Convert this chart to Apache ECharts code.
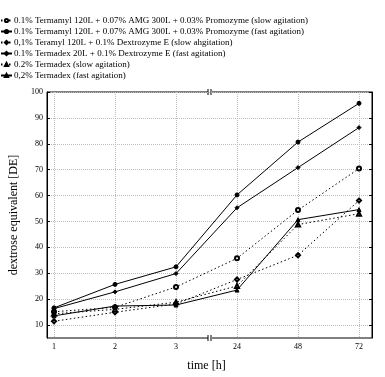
<!DOCTYPE html>
<html>
<head>
<meta charset="utf-8">
<script src="https://cdn.jsdelivr.net/npm/echarts@6/dist/echarts.min.js"></script>
<style>
  html, body { margin: 0; padding: 0; background: #fff; }
  #chart { width: 385px; height: 377px; }
</style>
</head>
<body>
<div id="chart"></div>
<script>
// ----- data -----
const timeLabels = ['1', '2', '3', '24', '48', '72'];
const seriesNames = [
    '0.1% Termamyl 120L + 0.07% AMG 300L + 0.03% Promozyme (slow agitation)',
    '0.1% Termamyl 120L + 0.07% AMG 300L + 0.03% Promozyme (fast agitation)',
    '0,1% Teramyl 120L + 0.1% Dextrozyme E (slow ahgitation)',
    '0.1% Termadex 20L + 0.1% Dextrozyme E (fast agitation)',
    '0.2% Termadex (slow agitation)',
    '0,2% Termadex (fast agitation)'
];
const promoSlow = [14.8, 16.5, 24.4, 35.5, 54.2, 70.3];
const promoFast = [16.3, 25.4, 32.2, 60.1, 80.6, 95.6];
const dextroSlow = [11.1, 14.6, 17.8, 27.3, 36.7, 57.9];
const dextroFast = [16.0, 22.5, 29.6, 55.1, 70.7, 86.2];
const termadexSlow = [14.0, 15.7, 18.5, 24.8, 48.6, 52.8];
const termadexFast = [13.2, 17.0, 17.4, 23.2, 50.5, 54.4];
const yTicks = [10, 20, 30, 40, 50, 60, 70, 80, 90, 100];

const seriesValues = [promoSlow, promoFast, dextroSlow, dextroFast, termadexSlow, termadexFast];
const symbols = ['emptyCircle', 'circle', 'emptyDiamond', 'diamond', 'emptyTriangle', 'triangle'];
const dashed = [true, false, true, false, true, false];

const serif = 'Liberation Serif';
const gridColor = '#bdbdbd';

// 两个 grid：0 画外框与 y 轴，1 放数据（类别轴两端留空）
const boxGrid = { left: 43, right: 13, top: 92, bottom: 39, show: true, borderColor: '#000', borderWidth: 1 };
const dataGrid = { left: 54, right: 26, top: 92, bottom: 39 };

const series = seriesNames.map((name, i) => ({
    name: name,
    type: 'line',
    xAxisIndex: 1,
    yAxisIndex: 2,
    data: seriesValues[i],
    symbol: symbols[i],
    symbolSize: 4,
    showAllSymbol: true,
    itemStyle: { color: '#000', borderColor: '#000', borderWidth: 1 },
    lineStyle: { color: '#000', width: 1, type: dashed[i] ? [1.5, 2.5] : 'solid' },
    emphasis: { disabled: true },
    z: 3
}));

// 断轴记号 "||"（3 与 24 之间）
const breakX = 209;
function breakMark(y) {
    return {
        type: 'group',
        children: [
            { type: 'rect', shape: { x: breakX - 1, y: y - 3, width: 4, height: 6 }, style: { fill: '#fff' } },
            { type: 'line', shape: { x1: breakX - 1, y1: y - 3, x2: breakX - 1, y2: y + 3 }, style: { stroke: '#000', lineWidth: 1 } },
            { type: 'line', shape: { x1: breakX + 2, y1: y - 3, x2: breakX + 2, y2: y + 3 }, style: { stroke: '#000', lineWidth: 1 } }
        ],
        z: 10
    };
}

const option = {
    animation: false,
    backgroundColor: '#fff',
    textStyle: { fontFamily: serif },
    legend: {
        orient: 'vertical',
        left: 0,
        top: 16,
        padding: 0,
        itemWidth: 11,
        itemHeight: 4,
        itemGap: 2,
        selectedMode: false,
        textStyle: { fontFamily: serif, fontSize: 9, lineHeight: 9, color: '#000', padding: [0, 0, 0, -3] },
        data: seriesNames
    },
    grid: [boxGrid, dataGrid],
    xAxis: [
        { type: 'value', gridIndex: 0, min: 0, max: 1, show: false },
        {
            type: 'category',
            gridIndex: 1,
            data: timeLabels,
            boundaryGap: false,
            name: 'time [h]',
            nameLocation: 'middle',
            nameGap: 23,
            nameTextStyle: { fontFamily: serif, fontSize: 12, color: '#000' },
            axisLine: { show: false },
            axisTick: { show: false },
            axisLabel: { fontFamily: serif, fontSize: 8, color: '#000', margin: 6 },
            splitLine: { show: true, lineStyle: { color: gridColor, type: [1, 1], width: 1 } }
        }
    ],
    yAxis: [
        {
            type: 'value',
            gridIndex: 0,
            min: 5,
            max: 100,
            interval: 5,
            name: 'dextrose equivalent [DE]',
            nameLocation: 'middle',
            nameGap: 27,
            nameTextStyle: { fontFamily: serif, fontSize: 12, color: '#000' },
            axisLine: { show: true, lineStyle: { color: '#000' } },
            axisTick: { show: true, inside: true, length: 3, customValues: yTicks, lineStyle: { color: '#000' } },
            axisLabel: { fontFamily: serif, fontSize: 8, color: '#000', margin: 4, customValues: yTicks },
            splitLine: { show: true, lineStyle: { color: gridColor, type: [1, 1], width: 1 } }
        },
        {
            type: 'value',
            gridIndex: 0,
            position: 'right',
            min: 5,
            max: 100,
            interval: 5,
            axisLine: { show: true, lineStyle: { color: '#000' } },
            axisTick: { show: true, inside: true, length: 3, customValues: yTicks, lineStyle: { color: '#000' } },
            axisLabel: { show: false },
            splitLine: { show: false }
        },
        { type: 'value', gridIndex: 1, min: 5, max: 100, show: false }
    ],
    graphic: [breakMark(92), breakMark(338)],
    series: series
};

const chart = echarts.init(document.getElementById('chart'), null, { renderer: 'canvas' });
chart.setOption(option);
</script>
</body>
</html>
